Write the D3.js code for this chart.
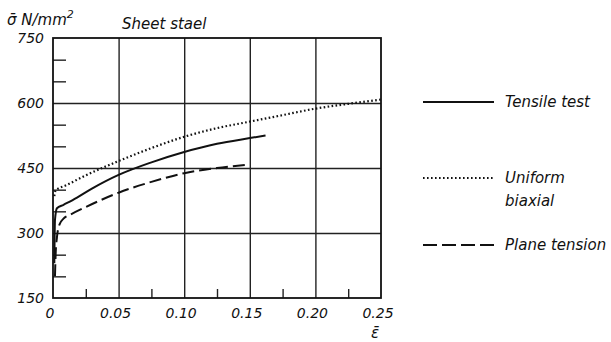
<!DOCTYPE html>
<html>
<head>
<meta charset="utf-8">
<script src="https://cdn.jsdelivr.net/npm/d3@7"></script>
<style>
  body { margin: 0; background: #fff; }
  text { font-family: "DejaVu Sans", sans-serif; font-style: italic; fill: #111; }
</style>
</head>
<body>
<div id="chart"></div>
<script>
// strain / stress readings
const tensileEps = [0.001, 0.0015, 0.003, 0.008, 0.015, 0.03, 0.05, 0.075, 0.10, 0.125, 0.15, 0.162];
const tensileSig = [230, 330, 357, 365, 376, 403, 434, 463, 487, 506, 519, 525];

const biaxialEps = [0.001, 0.002, 0.01, 0.025, 0.05, 0.075, 0.10, 0.125, 0.15, 0.175, 0.20, 0.225, 0.25];
const biaxialSig = [385, 398, 410, 433, 466, 496, 522, 542, 557, 572, 587, 598, 608];

const planeEps = [0.0015, 0.002, 0.003, 0.005, 0.008, 0.013, 0.025, 0.05, 0.075, 0.10, 0.125, 0.147];
const planeSig = [200, 250, 290, 320, 333, 342, 360, 393, 418, 438, 450, 457];

const xTicks = [0, 0.05, 0.10, 0.15, 0.20, 0.25];
const xTickLabels = ["0", "0.05", "0.10", "0.15", "0.20", "0.25"];
const xMinor = [0.025, 0.075, 0.125, 0.175, 0.225];
const yTicks = [150, 300, 450, 600, 750];
const yMinor = [200, 250, 350, 400, 500, 550, 650, 700];

const width = 611, height = 342;
const x0 = 53, x1 = 381, y0 = 298, y1 = 38;

const svg = d3.select("#chart").append("svg")
  .attr("width", width)
  .attr("height", height);

const x = d3.scaleLinear().domain([0, 0.25]).range([x0, x1]);
const y = d3.scaleLinear().domain([150, 750]).range([y0, y1]);

// grid
svg.append("g")
  .attr("transform", "translate(0," + y1 + ")")
  .call(d3.axisBottom(x).tickValues(xTicks.slice(1, -1)).tickSize(y0 - y1).tickFormat(""))
  .call(g => g.select(".domain").remove())
  .selectAll("line").attr("stroke", "#222").attr("stroke-width", 1.4);

svg.append("g")
  .attr("transform", "translate(" + x0 + ",0)")
  .call(d3.axisRight(y).tickValues(yTicks.slice(1, -1)).tickSize(x1 - x0).tickFormat(""))
  .call(g => g.select(".domain").remove())
  .selectAll("line").attr("stroke", "#222").attr("stroke-width", 1.4);

// minor ticks
svg.append("g")
  .attr("transform", "translate(0," + y0 + ")")
  .call(d3.axisTop(x).tickValues(xMinor).tickSize(9).tickFormat(""))
  .call(g => g.select(".domain").remove())
  .selectAll("line").attr("stroke", "#222").attr("stroke-width", 1.4);

svg.append("g")
  .attr("transform", "translate(" + x0 + ",0)")
  .call(d3.axisRight(y).tickValues(yMinor).tickSize(13).tickFormat(""))
  .call(g => g.select(".domain").remove())
  .selectAll("line").attr("stroke", "#222").attr("stroke-width", 1.4);

// frame
svg.append("rect")
  .attr("x", x0).attr("y", y1)
  .attr("width", x1 - x0).attr("height", y0 - y1)
  .attr("fill", "none").attr("stroke", "#111").attr("stroke-width", 1.8);

// tick labels
svg.append("g").selectAll("text")
  .data(yTicks).join("text")
  .attr("x", x0 - 9).attr("y", d => y(d) + 5)
  .attr("text-anchor", "end")
  .attr("font-size", 14)
  .text(d => d);

svg.append("g").selectAll("text")
  .data(xTicks).join("text")
  .attr("x", d => x(d) - 3).attr("y", y0 + 20)
  .attr("text-anchor", "middle")
  .attr("font-size", 14)
  .text((d, i) => xTickLabels[i]);

// axis titles
svg.append("text").attr("x", 7).attr("y", 25).attr("font-size", 15)
  .html("σ\u0304 N/mm<tspan dy='-7' font-size='11'>2</tspan>");
svg.append("text").attr("x", 122).attr("y", 29).attr("font-size", 15).text("Sheet stael");
svg.append("text").attr("x", 375).attr("y", 338).attr("text-anchor", "middle").attr("font-size", 15).text("ε\u0304");

// curves
const line = d3.line().x(d => x(d[0])).y(d => y(d[1])).curve(d3.curveMonotoneX);
const series = [
  { eps: tensileEps, sig: tensileSig, dash: null, w: 2 },
  { eps: biaxialEps, sig: biaxialSig, dash: "1.6,2.4", w: 2.2 },
  { eps: planeEps, sig: planeSig, dash: "12,5", w: 2 }
];
series.forEach(s => {
  svg.append("path")
    .datum(d3.zip(s.eps, s.sig))
    .attr("d", line)
    .attr("fill", "none")
    .attr("stroke", "#111")
    .attr("stroke-width", s.w)
    .attr("stroke-dasharray", s.dash);
});

// legend
const legend = [
  { label: ["Tensile test"], dash: null, w: 2, ly: 102 },
  { label: ["Uniform", "biaxial"], dash: "1.6,2.4", w: 2, ly: 178 },
  { label: ["Plane tension"], dash: "14,5", w: 2, ly: 245 }
];
legend.forEach(l => {
  svg.append("line")
    .attr("x1", 423).attr("x2", 494)
    .attr("y1", l.ly).attr("y2", l.ly)
    .attr("stroke", "#111").attr("stroke-width", l.w)
    .attr("stroke-dasharray", l.dash);
  l.label.forEach((t, i) => {
    svg.append("text")
      .attr("x", 505).attr("y", l.ly + 5 + i * 23)
      .attr("font-size", 15)
      .text(t);
  });
});
</script>
</body>
</html>
